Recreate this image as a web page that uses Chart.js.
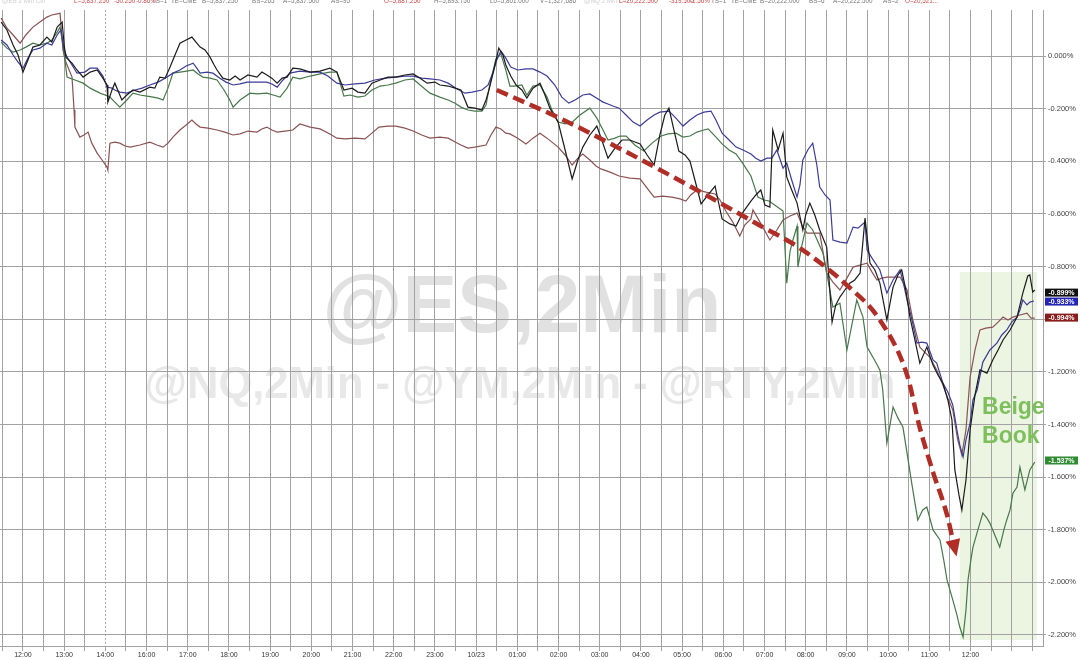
<!DOCTYPE html>
<html><head><meta charset="utf-8">
<script src="https://cdn.jsdelivr.net/npm/chart.js@4/dist/chart.umd.min.js"></script>
<style>html,body{margin:0;padding:0;background:#fff;overflow:hidden}canvas{display:block}</style>
</head><body>
<canvas id="c" width="1080" height="660"></canvas>
<script>
// x values are hours from the first 12:00 label (15:00 is skipped on the axis)
const hourLabels = ['12:00','13:00','14:00','16:00','17:00','18:00','19:00','20:00','21:00','22:00','23:00','10/23','01:00','02:00','03:00','04:00','05:00','06:00','07:00','08:00','09:00','10:00','11:00','12:00'];
const yTicks = [0,-0.2,-0.4,-0.6,-0.8,-1.0,-1.2,-1.4,-1.6,-1.8,-2.0,-2.2];

// @ES (black)
const esT = [-0.53,-0.39,-0.24,-0.12,0,0.12,0.24,0.41,0.58,0.70,0.83,0.95,1.00,1.04,1.19,1.31,1.46,1.63,1.80,1.94,2.04,2.06,2.16,2.23,2.40,2.52,2.67,2.84,3.08,3.20,3.32,3.45,3.57,3.69,3.81,3.96,4.10,4.20,4.30,4.42,4.54,4.64,4.71,4.85,5.02,5.15,5.27,5.46,5.68,5.80,5.92,6.04,6.17,6.29,6.41,6.55,6.72,6.97,7.21,7.45,7.62,7.79,7.99,8.13,8.30,8.47,8.67,8.86,9.05,9.27,9.47,9.64,9.81,10.00,10.12,10.32,10.49,10.63,10.80,10.97,11.14,11.24,11.31,11.43,11.55,11.65,11.72,11.84,11.97,12.11,12.23,12.38,12.55,12.67,12.79,12.99,13.16,13.33,13.47,13.59,13.76,13.93,14.05,14.20,14.37,14.54,14.73,14.98,15.15,15.32,15.46,15.58,15.68,15.80,15.92,16.07,16.19,16.31,16.46,16.63,16.80,16.87,16.97,17.16,17.31,17.48,17.67,17.79,17.91,18.01,18.13,18.20,18.33,18.45,18.54,18.66,18.79,18.93,19.00,19.10,19.22,19.34,19.51,19.64,19.73,19.83,19.95,20.07,20.19,20.32,20.44,20.56,20.68,20.80,20.97,21.12,21.24,21.33,21.43,21.53,21.65,21.77,21.94,22.09,22.21,22.33,22.45,22.55,22.62,22.72,22.79,22.89,22.99,23.11,23.23,23.40,23.54,23.67,23.79,23.96,24.13,24.27,24.39,24.44,24.51,24.56];
const esV = [0.129,0.099,0.042,0.004,-0.061,-0.015,0.034,0.042,0.072,0.053,0.110,0.129,0.042,-0.004,-0.027,-0.053,-0.080,-0.061,-0.053,-0.084,-0.110,-0.175,-0.129,-0.103,-0.167,-0.148,-0.129,-0.137,-0.118,-0.122,-0.080,-0.084,-0.042,0.004,0.049,0.061,0.072,0.053,0.034,0.023,-0.004,-0.034,-0.053,-0.084,-0.091,-0.076,-0.091,-0.072,-0.080,-0.061,-0.072,-0.084,-0.103,-0.084,-0.080,-0.046,-0.049,-0.061,-0.057,-0.046,-0.061,-0.129,-0.122,-0.137,-0.141,-0.103,-0.091,-0.080,-0.080,-0.072,-0.068,-0.084,-0.103,-0.099,-0.110,-0.114,-0.122,-0.129,-0.194,-0.198,-0.205,-0.167,-0.129,-0.053,0.030,0.004,-0.034,-0.076,-0.110,-0.129,-0.160,-0.122,-0.103,-0.148,-0.198,-0.251,-0.357,-0.467,-0.395,-0.346,-0.300,-0.266,-0.319,-0.388,-0.350,-0.319,-0.319,-0.334,-0.376,-0.414,-0.300,-0.224,-0.198,-0.281,-0.361,-0.376,-0.399,-0.471,-0.562,-0.528,-0.494,-0.547,-0.619,-0.638,-0.646,-0.593,-0.551,-0.528,-0.509,-0.566,-0.574,-0.281,-0.357,-0.293,-0.460,-0.509,-0.559,-0.661,-0.604,-0.559,-0.604,-0.661,-0.726,-1.011,-0.946,-0.916,-0.889,-0.863,-0.851,-0.825,-0.616,-0.787,-0.813,-0.863,-1.003,-0.878,-0.832,-0.813,-0.889,-0.992,-1.079,-1.167,-1.106,-1.174,-1.212,-1.243,-1.307,-1.383,-1.573,-1.668,-1.725,-1.611,-1.421,-1.288,-1.193,-1.205,-1.155,-1.117,-1.079,-1.041,-0.992,-0.901,-0.836,-0.832,-0.897,-0.889];

// @NQ (blue)
const nqT = [-0.53,-0.39,-0.24,-0.12,0,0.12,0.24,0.41,0.58,0.70,0.83,0.92,1.00,1.07,1.19,1.31,1.50,1.63,1.80,1.94,2.04,2.16,2.23,2.35,2.52,2.72,2.89,3.08,3.28,3.45,3.64,3.81,3.96,4.13,4.22,4.30,4.47,4.61,4.78,4.93,5.10,5.27,5.44,5.58,5.75,5.92,6.04,6.17,6.31,6.48,6.72,6.97,7.21,7.40,7.62,7.82,8.06,8.30,8.54,8.79,9.05,9.27,9.47,9.68,9.88,10.12,10.32,10.51,10.73,10.90,11.14,11.29,11.41,11.50,11.60,11.72,11.84,12.01,12.21,12.38,12.55,12.72,12.91,13.08,13.25,13.40,13.59,13.76,13.93,14.08,14.20,14.32,14.47,14.64,14.81,14.98,15.15,15.32,15.46,15.68,15.85,16.02,16.19,16.36,16.53,16.70,16.82,16.97,17.14,17.31,17.48,17.67,17.79,17.91,18.06,18.18,18.30,18.45,18.54,18.66,18.79,18.86,18.93,19.05,19.17,19.27,19.34,19.47,19.59,19.66,19.83,20.00,20.15,20.27,20.44,20.49,20.61,20.80,20.97,21.12,21.29,21.38,21.46,21.58,21.70,21.82,21.94,22.09,22.18,22.33,22.45,22.57,22.67,22.74,22.82,22.89,22.99,23.06,23.16,23.30,23.47,23.64,23.76,23.88,24.00,24.13,24.20,24.27,24.37,24.44,24.54];
const nqV = [0.061,0.042,0.004,-0.023,-0.046,-0.008,0.023,0.030,0.049,0.042,0.080,0.099,0.023,-0.004,-0.034,-0.065,-0.061,-0.046,-0.046,-0.076,-0.118,-0.122,-0.129,-0.137,-0.141,-0.129,-0.122,-0.110,-0.099,-0.084,-0.065,-0.053,-0.038,-0.027,-0.046,-0.065,-0.061,-0.065,-0.084,-0.099,-0.110,-0.106,-0.099,-0.099,-0.099,-0.099,-0.106,-0.118,-0.091,-0.065,-0.057,-0.061,-0.061,-0.076,-0.103,-0.110,-0.106,-0.103,-0.091,-0.084,-0.080,-0.076,-0.076,-0.084,-0.087,-0.091,-0.103,-0.122,-0.141,-0.137,-0.129,-0.110,-0.061,-0.015,0.019,-0.008,-0.042,-0.053,-0.049,-0.049,-0.061,-0.076,-0.110,-0.156,-0.179,-0.167,-0.148,-0.144,-0.160,-0.175,-0.182,-0.190,-0.198,-0.224,-0.251,-0.266,-0.243,-0.224,-0.213,-0.209,-0.236,-0.266,-0.243,-0.224,-0.213,-0.209,-0.243,-0.293,-0.319,-0.346,-0.357,-0.372,-0.388,-0.399,-0.388,-0.388,-0.357,-0.426,-0.407,-0.471,-0.536,-0.490,-0.395,-0.357,-0.331,-0.414,-0.498,-0.528,-0.547,-0.699,-0.707,-0.711,-0.650,-0.654,-0.631,-0.737,-0.768,-0.813,-0.901,-0.851,-0.813,-0.870,-0.927,-1.003,-1.091,-1.087,-1.091,-1.155,-1.167,-1.243,-1.277,-1.326,-1.421,-1.478,-1.524,-1.459,-1.395,-1.307,-1.269,-1.163,-1.117,-1.091,-1.060,-1.041,-1.011,-0.992,-0.965,-0.927,-0.946,-0.935,-0.931];

// @YM (brown)
const ymT = [-0.53,-0.39,-0.24,-0.07,0.07,0.24,0.41,0.58,0.70,0.83,0.90,0.97,1.04,1.14,1.19,1.24,1.26,1.38,1.48,1.58,1.67,1.80,1.92,2.04,2.06,2.11,2.23,2.35,2.48,2.60,2.84,3.08,3.25,3.40,3.52,3.64,3.81,3.96,4.10,4.20,4.30,4.49,4.71,4.90,5.10,5.27,5.46,5.68,5.80,5.92,6.04,6.17,6.36,6.55,6.72,6.97,7.21,7.45,7.62,7.82,8.06,8.30,8.47,8.64,8.86,9.05,9.27,9.47,9.68,9.88,10.12,10.32,10.49,10.63,10.80,10.97,11.24,11.36,11.48,11.60,11.72,11.82,12.01,12.21,12.38,12.55,12.72,12.84,12.99,13.16,13.33,13.47,13.59,13.76,13.91,14.03,14.25,14.47,14.73,14.98,15.15,15.32,15.53,15.75,15.95,16.09,16.21,16.36,16.58,16.80,16.92,17.06,17.23,17.40,17.52,17.67,17.72,17.89,18.13,18.30,18.45,18.62,18.79,18.91,19.03,19.20,19.34,19.51,19.66,19.83,20.00,20.15,20.32,20.49,20.61,20.73,20.85,20.97,21.14,21.29,21.46,21.60,21.77,21.89,22.01,22.18,22.33,22.45,22.57,22.69,22.79,22.89,22.99,23.11,23.23,23.37,23.54,23.67,23.79,23.91,24.03,24.20,24.37,24.47,24.56];
const ymV = [0.144,0.106,0.080,0.049,0.080,0.110,0.129,0.148,0.156,0.160,0.163,0.023,-0.023,-0.061,-0.080,-0.205,-0.270,-0.308,-0.300,-0.289,-0.331,-0.369,-0.395,-0.422,-0.433,-0.331,-0.327,-0.331,-0.342,-0.346,-0.338,-0.327,-0.338,-0.346,-0.331,-0.308,-0.281,-0.262,-0.243,-0.258,-0.270,-0.274,-0.281,-0.289,-0.300,-0.296,-0.285,-0.289,-0.277,-0.270,-0.281,-0.289,-0.285,-0.281,-0.258,-0.270,-0.277,-0.296,-0.312,-0.315,-0.312,-0.315,-0.293,-0.270,-0.266,-0.266,-0.274,-0.285,-0.300,-0.312,-0.308,-0.312,-0.327,-0.338,-0.350,-0.346,-0.338,-0.300,-0.270,-0.277,-0.293,-0.296,-0.312,-0.334,-0.312,-0.293,-0.312,-0.327,-0.346,-0.376,-0.414,-0.388,-0.372,-0.395,-0.418,-0.429,-0.441,-0.456,-0.464,-0.467,-0.502,-0.536,-0.532,-0.536,-0.543,-0.551,-0.528,-0.509,-0.517,-0.524,-0.547,-0.589,-0.631,-0.684,-0.642,-0.619,-0.585,-0.631,-0.699,-0.661,-0.623,-0.608,-0.597,-0.642,-0.673,-0.673,-0.673,-0.825,-0.859,-0.889,-0.844,-0.802,-0.794,-0.787,-0.821,-0.851,-0.844,-0.840,-0.840,-0.840,-0.889,-1.003,-1.106,-1.125,-1.144,-1.193,-1.250,-1.300,-1.345,-1.459,-1.516,-1.421,-1.220,-1.117,-1.041,-1.034,-1.030,-1.011,-0.992,-1.003,-0.992,-0.984,-0.977,-0.996,-0.996];

// @RTY (green)
const rtyT = [-0.53,-0.39,-0.24,-0.07,0.07,0.24,0.41,0.58,0.70,0.83,0.90,0.97,1.07,1.26,1.46,1.63,1.87,1.99,2.11,2.23,2.35,2.52,2.67,2.84,3.01,3.16,3.28,3.40,3.52,3.64,3.81,3.98,4.13,4.25,4.37,4.54,4.71,4.88,5.02,5.10,5.27,5.51,5.70,5.92,6.07,6.24,6.41,6.55,6.72,6.97,7.21,7.45,7.62,7.79,7.94,8.13,8.30,8.47,8.67,8.86,9.05,9.27,9.47,9.64,9.88,10.12,10.32,10.49,10.63,10.80,10.97,11.14,11.24,11.33,11.48,11.60,11.72,11.82,11.94,12.11,12.23,12.38,12.55,12.72,12.84,12.99,13.16,13.33,13.52,13.76,13.93,14.08,14.20,14.37,14.49,14.64,14.85,15.07,15.27,15.49,15.66,15.85,16.02,16.19,16.36,16.53,16.63,16.80,16.97,17.14,17.31,17.48,17.67,17.84,17.99,18.11,18.28,18.45,18.54,18.62,18.69,18.79,18.81,18.91,19.03,19.17,19.30,19.42,19.54,19.66,19.83,20.00,20.12,20.24,20.39,20.49,20.63,20.80,20.87,20.97,21.12,21.24,21.36,21.46,21.58,21.72,21.84,21.94,22.09,22.26,22.35,22.43,22.57,22.67,22.74,22.82,22.89,22.94,23.01,23.06,23.18,23.30,23.40,23.47,23.59,23.71,23.81,23.88,23.96,24.03,24.13,24.20,24.32,24.44,24.56];
const rtyV = [0.053,0.030,0.015,0.023,0.034,0.049,0.042,0.049,0.061,0.091,0.110,0.042,-0.080,-0.091,-0.103,-0.122,-0.141,-0.148,-0.156,-0.175,-0.194,-0.167,-0.141,-0.148,-0.152,-0.156,-0.160,-0.167,-0.122,-0.065,-0.061,-0.057,-0.053,-0.068,-0.080,-0.084,-0.091,-0.129,-0.167,-0.194,-0.167,-0.141,-0.144,-0.141,-0.148,-0.156,-0.122,-0.080,-0.087,-0.076,-0.068,-0.061,-0.061,-0.152,-0.148,-0.156,-0.152,-0.129,-0.114,-0.110,-0.103,-0.091,-0.087,-0.110,-0.141,-0.156,-0.167,-0.179,-0.194,-0.205,-0.209,-0.209,-0.186,-0.110,-0.011,0.008,-0.053,-0.114,-0.114,-0.110,-0.148,-0.114,-0.110,-0.156,-0.205,-0.251,-0.258,-0.251,-0.224,-0.198,-0.236,-0.281,-0.319,-0.312,-0.304,-0.304,-0.338,-0.361,-0.331,-0.304,-0.296,-0.293,-0.308,-0.304,-0.289,-0.281,-0.277,-0.304,-0.334,-0.357,-0.372,-0.410,-0.456,-0.536,-0.547,-0.551,-0.570,-0.589,-0.863,-0.741,-0.699,-0.646,-0.802,-0.718,-0.635,-0.661,-0.707,-0.749,-0.851,-0.954,-0.939,-1.117,-1.022,-0.927,-0.992,-1.106,-1.144,-1.193,-1.269,-1.471,-1.334,-1.376,-1.410,-1.509,-1.630,-1.763,-1.725,-1.714,-1.801,-1.839,-1.915,-1.991,-2.067,-2.124,-2.170,-2.208,-2.105,-1.991,-1.915,-1.866,-1.801,-1.737,-1.756,-1.775,-1.820,-1.866,-1.801,-1.763,-1.725,-1.661,-1.638,-1.562,-1.649,-1.573,-1.543];

// last-value tags
const tagLabels = ['-0.899%','-0.933%','-0.994%','-1.537%'];
const tagValues = [-0.899,-0.933,-0.994,-1.537];

// annotation: dashed arrow path and Beige Book window (data coordinates)
const arrowT = [11.50,13.03,14.47,16.36,17.91,18.86,20.00,20.80,21.46,21.77,22.09,22.43,22.57];
const arrowV = [-0.129,-0.236,-0.350,-0.509,-0.646,-0.730,-0.871,-1.003,-1.212,-1.413,-1.581,-1.744,-1.839];
const beigeT = [22.74,24.61];
const beigeV = [-0.821,-2.219];

const pts = (t,v)=>{const n=Math.min(t.length,v.length);const o=[];for(let i=0;i<n;i++)o.push({x:t[i],y:v[i]});return o;};

const FONT = '"Liberation Sans", Arial, sans-serif';

const decor = {
  id:'decor',
  beforeDraw(chart){
    const {ctx, scales:{x,y}} = chart;
    ctx.save();
    ctx.fillStyle='#ffffff'; ctx.fillRect(0,0,chart.width,chart.height);
    const bx1=x.getPixelForValue(beigeT[0]), bx2=x.getPixelForValue(beigeT[1]);
    const by1=y.getPixelForValue(beigeV[0]), by2=y.getPixelForValue(beigeV[1]);
    ctx.fillStyle='#ebf5e2'; ctx.fillRect(bx1,by1,bx2-bx1,by2-by1);
    ctx.textAlign='center'; ctx.textBaseline='alphabetic';
    ctx.fillStyle='#e1e1e1'; ctx.font='bold 82px '+FONT;
    ctx.fillText('@ES,2Min', 522, 332);
    ctx.fillStyle='#e8e8e8'; ctx.font='bold 43.5px '+FONT;
    ctx.fillText('@NQ,2Min - @YM,2Min - @RTY,2Min', 520, 398);
    ctx.restore();
  },
  beforeDatasetsDraw(chart){
    const {ctx, chartArea:a, scales:{x}} = chart;
    ctx.save();
    const px = Math.round(x.getPixelForValue(2))+0.5;
    ctx.strokeStyle='#a8a8a8'; ctx.lineWidth=1; ctx.setLineDash([2,2]);
    ctx.beginPath(); ctx.moveTo(px,a.top); ctx.lineTo(px,a.bottom+5); ctx.stroke();
    ctx.restore();
  },
  afterDatasetsDraw(chart){
    const {ctx, scales:{x,y}} = chart;
    ctx.save();
    // arrow head
    const meta = chart.getDatasetMeta(4);
    const n = meta.data.length;
    const p1 = meta.data[n-2], p2 = meta.data[n-1];
    let dx=p2.x-p1.x, dy=p2.y-p1.y; const L=Math.hypot(dx,dy); dx/=L; dy/=L;
    const tipx=p2.x+dx*17, tipy=p2.y+dy*17;
    ctx.fillStyle='#b02e26';
    ctx.beginPath();
    ctx.moveTo(tipx,tipy);
    ctx.lineTo(p2.x-dy*7.5, p2.y+dx*7.5);
    ctx.lineTo(p2.x+dy*7.5, p2.y-dx*7.5);
    ctx.closePath(); ctx.fill();
    // Beige Book label
    ctx.fillStyle='#7dbf5b'; ctx.font='bold 23px '+FONT;
    ctx.textAlign='left'; ctx.textBaseline='alphabetic';
    const lx = x.getPixelForValue(23.28);
    ctx.fillText('Beige', lx, y.getPixelForValue(-1.362));
    ctx.fillText('Book', lx, y.getPixelForValue(-1.470));
    ctx.restore();
  },
  afterDraw(chart){
    const {ctx, chartArea:a, scales:{y}} = chart;
    ctx.save();
    const cols = ['#111111','#2323b4','#8a1c1c','#2f8c34'];
    ctx.font='bold 7px '+FONT; ctx.textAlign='center'; ctx.textBaseline='middle';
    tagValues.forEach((v,i)=>{
      const cy = y.getPixelForValue(v);
      ctx.fillStyle=cols[i];
      ctx.fillRect(a.right+2, cy-4, 33, 8);
      ctx.fillStyle='#ffffff';
      ctx.fillText(tagLabels[i], a.right+18.5, cy+0.5);
    });
    // header quote strip (cut off at top)
    const hdr = [
      ['@ES 2 Min Ctrl',2,'#cfcfcf'],['L=5,837.250',74,'#d04a4a'],['-50.250',114,'#d04a4a'],['-0.86%',136,'#d04a4a'],
      ['TS=1',152,'#777'],['TE=CME',171,'#777'],['B=5,837.250',202,'#777'],['BS=265',252,'#777'],['A=5,837.500',283,'#777'],['AS=95',331,'#777'],
      ['O=5,887.250',384,'#d04a4a'],['H=5,893.750',434,'#777'],['L0=5,801.000',490,'#777'],['V=1,327,686',540,'#777'],
      ['@NQ 2 Min Ctrl',584,'#cfcfcf'],['L=20,222.500',619,'#d04a4a'],['-319.500',669,'#d04a4a'],['-1.56%',690,'#d04a4a'],['TS=1',711,'#777'],
      ['TE=CME',731,'#777'],['B=20,222.000',760,'#777'],['BS=6',809,'#777'],['A=20,222.500',833,'#777'],['AS=2',883,'#777'],['O=20,521...',905,'#d04a4a']
    ];
    ctx.font='6.3px '+FONT; ctx.textAlign='left'; ctx.textBaseline='alphabetic';
    hdr.forEach(h=>{ctx.fillStyle=h[2]; ctx.fillText(h[0],h[1],3);});
    ctx.restore();
  }
};

const lineDs = (label,t,v,color,order)=>({label,data:pts(t,v),borderColor:color,borderWidth:1.2,pointRadius:0,tension:0,order,fill:false});

new Chart(document.getElementById('c'),{
  type:'line',
  data:{datasets:[
    lineDs('@ES',esT,esV,'#1b1b1b',1),
    lineDs('@NQ',nqT,nqV,'#3b3b98',2),
    lineDs('@YM',ymT,ymV,'#8a5252',4),
    lineDs('@RTY',rtyT,rtyV,'#47784a',3),
    {label:'arrow',data:pts(arrowT,arrowV),borderColor:'#b02e26',borderWidth:4.5,borderDash:[12,6],pointRadius:0,cubicInterpolationMode:'monotone',order:0,fill:false}
  ]},
  options:{
    responsive:false, animation:false, devicePixelRatio:1,
    layout:{padding:{top:10,left:0,right:0,bottom:0}},
    plugins:{legend:{display:false},tooltip:{enabled:false}},
    scales:{
      x:{type:'linear',min:-0.558,max:24.76,position:'bottom',
        afterBuildTicks:(ax)=>{const t=[];for(let v=-0.5;v<=24.5;v+=0.5)t.push({value:v});ax.ticks=t;},
        afterFit:(ax)=>{ax.height=14;},
        grid:{color:(c)=>(c.tick && c.tick.value===2)?'rgba(0,0,0,0)':'#a2a2a2',lineWidth:1,drawTicks:true,tickLength:5,tickColor:'#a2a2a2'},
        border:{display:true,color:'#a2a2a2'},
        ticks:{autoSkip:false,maxRotation:0,padding:0,color:'#333',font:{size:7,family:FONT},
          callback:(v)=>{const i=Math.round(v);return (Math.abs(v-i)<1e-6 && i>=0 && i<hourLabels.length)?hourLabels[i]:'';}}
      },
      y:{type:'linear',min:-2.242,max:0.175,position:'right',
        afterBuildTicks:(ax)=>{ax.ticks=yTicks.map(v=>({value:v}));},
        afterFit:(ax)=>{ax.width=37;},
        grid:{color:'#a2a2a2',lineWidth:1,drawTicks:true,tickLength:3,tickColor:'#a2a2a2'},
        border:{display:true,color:'#a2a2a2'},
        ticks:{padding:2,color:'#444',font:{size:7.5,family:FONT},
          callback:(v)=>(Math.abs(v)<1e-9?'0.000':v.toFixed(3))+'%'}
      }
    }
  },
  plugins:[decor]
});
</script>
</body></html>
